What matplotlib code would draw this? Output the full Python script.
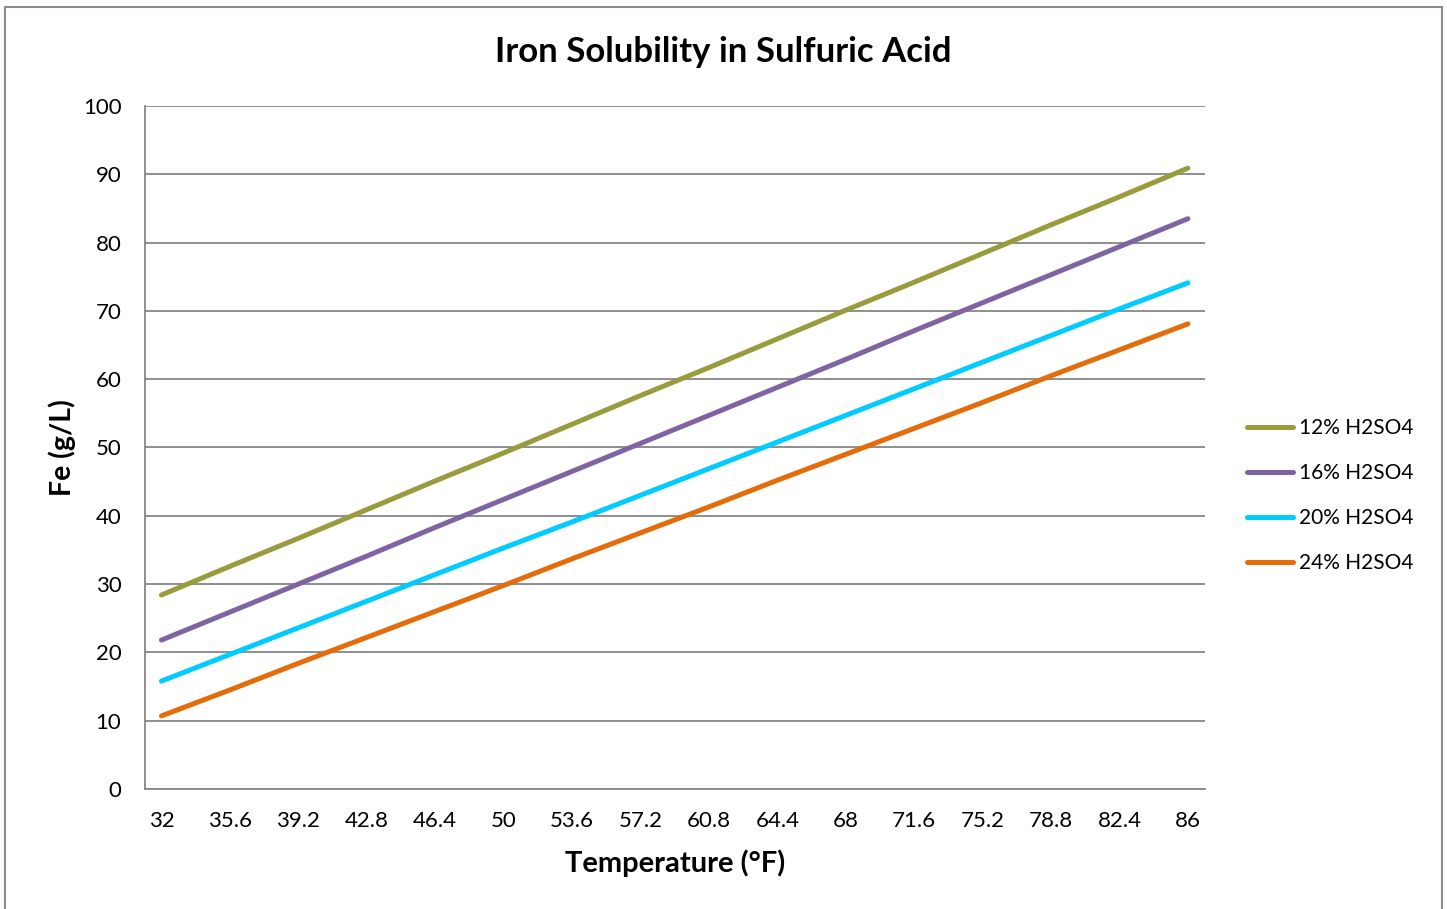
import matplotlib.pyplot as plt
from matplotlib.patches import Rectangle

plt.rcParams['font.family'] = ['Lato', 'DejaVu Sans']

temps = ['32', '35.6', '39.2', '42.8', '46.4', '50', '53.6', '57.2',
         '60.8', '64.4', '68', '71.6', '75.2', '78.8', '82.4', '86']
fe_12 = [28.4, 32.6, 36.7, 40.9, 45.1, 49.2, 53.4, 57.6,
         61.7, 65.9, 70.1, 74.2, 78.4, 82.6, 86.7, 90.9]
fe_16 = [21.8, 25.9, 30.0, 34.1, 38.3, 42.4, 46.5, 50.6,
         54.7, 58.8, 62.9, 67.1, 71.2, 75.3, 79.4, 83.5]
fe_20 = [15.8, 19.7, 23.6, 27.5, 31.4, 35.3, 39.1, 43.0,
         46.9, 50.8, 54.7, 58.6, 62.5, 66.4, 70.3, 74.1]
fe_24 = [10.7, 14.5, 18.4, 22.2, 26.0, 29.8, 33.7, 37.5,
         41.3, 45.2, 49.0, 52.8, 56.6, 60.5, 64.3, 68.1]
series = [('12% H2SO4', fe_12, '#9a9b3c'),
          ('16% H2SO4', fe_16, '#8064a2'),
          ('20% H2SO4', fe_20, '#00ccff'),
          ('24% H2SO4', fe_24, '#e46c0a')]

fig = plt.figure(figsize=(14.47, 9.09), dpi=100)
ax = fig.add_axes([145/1447, 1-789/909, (1205-145)/1447, (789-106)/909])

# outer chart frame
fig.patches.append(Rectangle((5/1447, -0.05), 1437/1447, 1.05-7/909,
                             transform=fig.transFigure, fill=False,
                             edgecolor='#8c8c8c', linewidth=1.5))

x = list(range(len(temps)))
for name, vals, col in series:
    ax.plot(x, vals, color=col, linewidth=3.6, solid_capstyle='round', label=name)

ax.set_xlim(-0.24, 15.25)
ax.set_ylim(0, 100)
ax.set_yticks(range(0, 101, 10))
ax.set_xticks(x)
ax.set_xticklabels(temps)
ax.tick_params(length=0, labelsize=16)
ax.tick_params(axis='y', pad=17)
ax.tick_params(axis='x', pad=16)
ax.grid(axis='y', color='#868686', linewidth=1.3)
ax.set_axisbelow(True)
for s in ['top', 'right']:
    ax.spines[s].set_visible(False)
for s in ['left', 'bottom']:
    ax.spines[s].set_color('#868686')
    ax.spines[s].set_linewidth(1.3)

ax.set_xlabel('Temperature (°F)', fontsize=21, fontweight='bold', labelpad=13)
ax.set_ylabel('Fe (g/L)', fontsize=20.5, fontweight='bold', labelpad=5)
fig.text(0.5, 1-52/909, 'Iron Solubility in Sulfuric Acid', ha='center', va='center',
         fontsize=25, fontweight='bold')

ax.legend(loc='center left', bbox_to_anchor=(1.022, 0.43), frameon=False,
          fontsize=15, handlelength=2.2, handletextpad=0.3, labelspacing=1.2)

fig.savefig('out.png', dpi=100)
